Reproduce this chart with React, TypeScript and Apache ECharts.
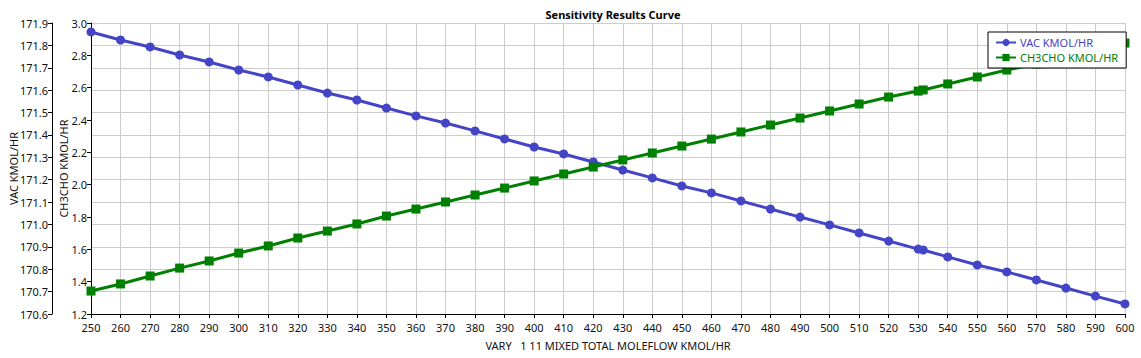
import React, { useEffect, useRef } from "react";
import * as echarts from "echarts";

const xValues = [250, 260, 270, 280, 290, 300, 310, 320, 330, 340, 350, 360, 370, 380, 390, 400, 410, 420, 430, 440, 450, 460, 470, 480, 490, 500, 510, 520, 530, 531.7, 540, 550, 560, 570, 580, 590, 600];
const vacValues = [171.86, 171.824, 171.793, 171.757, 171.726, 171.69, 171.659, 171.623, 171.587, 171.556, 171.52, 171.485, 171.453, 171.418, 171.382, 171.346, 171.315, 171.279, 171.243, 171.208, 171.172, 171.141, 171.105, 171.069, 171.033, 170.998, 170.962, 170.926, 170.89, 170.886, 170.855, 170.819, 170.788, 170.752, 170.716, 170.68, 170.645];
const ch3choValues = [1.342, 1.386, 1.435, 1.484, 1.528, 1.577, 1.621, 1.67, 1.713, 1.757, 1.806, 1.849, 1.893, 1.936, 1.979, 2.023, 2.066, 2.109, 2.153, 2.196, 2.239, 2.282, 2.326, 2.369, 2.412, 2.456, 2.499, 2.542, 2.579, 2.586, 2.623, 2.666, 2.709, 2.746, 2.79, 2.833, 2.876];

const seriesNames = ["VAC KMOL/HR", "CH3CHO KMOL/HR"];
const title = "Sensitivity Results Curve";
const xAxisName = "VARY   1 11 MIXED TOTAL MOLEFLOW KMOL/HR";

const FONT = "'Noto Sans', 'Open Sans', sans-serif";
const BLUE = "#4444c6";
const GREEN = "#008000";

export default function App() {
  const ref = useRef<HTMLDivElement>(null);
  useEffect(() => {
    document.body.style.margin = "0";
    const chart = echarts.init(ref.current!, null, { renderer: "svg" });
    const axisLine = { show: true, lineStyle: { color: "#000", width: 1 } };
    const axisTick = { show: true, length: 4, lineStyle: { color: "#000" } };
    const axisLabel = { color: "#111", fontSize: 11, fontFamily: FONT };
    chart.setOption({
      animation: false,
      backgroundColor: "#fff",
      textStyle: { fontFamily: FONT },
      title: {
        text: title,
        left: 608,
        textAlign: "center",
        top: 4,
        textStyle: { fontSize: 11, fontWeight: "bold", color: "#000", fontFamily: FONT },
      },
      grid: { left: 91, right: 16, top: 23, bottom: 44, containLabel: false, outerBoundsMode: "none" },
      legend: {
        left: 988,
        top: 32,
        orient: "vertical",
        backgroundColor: "#fff",
        borderColor: "#000",
        borderWidth: 1,
        borderRadius: 0,
        padding: [5, 8, 5, 7],
        itemGap: 4,
        itemWidth: 20,
        itemHeight: 9,
        textStyle: { fontSize: 11, fontFamily: FONT, padding: [0, 0, 0, -1] },
        data: [
          { name: seriesNames[0], textStyle: { color: BLUE } },
          { name: seriesNames[1], textStyle: { color: GREEN } },
        ],
      },
      xAxis: {
        type: "value",
        min: 250,
        max: 600,
        interval: 10,
        name: xAxisName,
        nameLocation: "middle",
        nameGap: 26,
        nameMoveOverlap: false,
        nameTextStyle: { fontSize: 11, color: "#111", fontFamily: FONT },
        axisLine,
        axisTick,
        axisLabel: { ...axisLabel, margin: 8 },
        splitLine: { show: true, lineStyle: { color: "#cccccc", width: 1 } },
      },
      yAxis: [
        {
          type: "value",
          position: "left",
          offset: 39,
          min: 170.6,
          max: 171.9,
          interval: 0.1,
          name: seriesNames[0],
          nameLocation: "middle",
          nameGap: 33,
          nameMoveOverlap: false,
          nameTextStyle: { fontSize: 11, color: "#111", fontFamily: FONT },
          axisLine,
          axisTick,
          axisLabel: { ...axisLabel, margin: 4, formatter: (v: number) => v.toFixed(1) },
          splitLine: { show: true, lineStyle: { color: "#cccccc", width: 1 } },
        },
        {
          type: "value",
          position: "left",
          offset: 0,
          min: 1.2,
          max: 3.0,
          interval: 0.2,
          name: seriesNames[1],
          nameLocation: "middle",
          nameGap: 22,
          nameMoveOverlap: false,
          nameTextStyle: { fontSize: 11, color: "#111", fontFamily: FONT },
          axisLine,
          axisTick,
          axisLabel: { ...axisLabel, margin: 4, formatter: (v: number) => v.toFixed(1) },
          splitLine: { show: false },
        },
      ],
      series: [
        {
          name: seriesNames[0],
          type: "line",
          yAxisIndex: 0,
          data: xValues.map((x, i) => [x, vacValues[i]]),
          symbol: "circle",
          symbolSize: 9,
          lineStyle: { color: BLUE, width: 3 },
          itemStyle: { color: BLUE },
          color: BLUE,
        },
        {
          name: seriesNames[1],
          type: "line",
          yAxisIndex: 1,
          data: xValues.map((x, i) => [x, ch3choValues[i]]),
          symbol: "rect",
          symbolSize: 9,
          lineStyle: { color: GREEN, width: 3 },
          itemStyle: { color: GREEN },
          color: GREEN,
        },
      ],
    });
    return () => chart.dispose();
  }, []);
  return <div ref={ref} style={{ width: 1141, height: 358 }} />;
}
